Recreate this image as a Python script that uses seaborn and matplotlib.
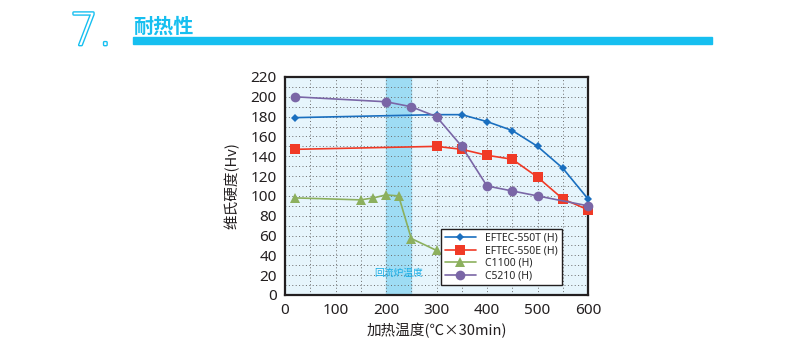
import matplotlib
matplotlib.use("Agg")
import matplotlib.pyplot as plt
import matplotlib.patheffects as pe
from matplotlib.ticker import MultipleLocator
import seaborn as sns
import pandas as pd

# data
temp_550t = [20, 300, 350, 400, 450, 500, 550, 600]
hv_550t = [179, 182, 182, 175, 166, 150, 128, 97]

temp_550e = [20, 300, 350, 400, 450, 500, 550, 600]
hv_550e = [147, 150, 147, 141, 137, 119, 97, 86]

temp_c1100 = [20, 150, 175, 200, 225, 250, 300]
hv_c1100 = [98, 96, 98, 101, 100, 57, 45]

temp_c5210 = [20, 200, 250, 300, 350, 400, 450, 500, 600]
hv_c5210 = [200, 195, 190, 180, 150, 110, 105, 100, 90]

series_names = ["EFTEC-550T (H)", "EFTEC-550E (H)", "C1100 (H)", "C5210 (H)"]
reflow_band = [200, 250]

CYAN = "#16bff0"
INK = "#231f20"

sns.set_theme(style="white")
plt.rcParams["font.family"] = ["Noto Sans", "Noto Sans CJK SC", "DejaVu Sans"]

fig = plt.figure(figsize=(7.86, 3.57), dpi=100)
ax = fig.add_axes([285 / 786, 1 - 295 / 357, 303 / 786, 218 / 357])
ax.set_facecolor("#e6f5fc")

# reflow oven temperature band
ax.axvspan(reflow_band[0], reflow_band[1], color="#9edcf4", zorder=0.5)
ax.text(sum(reflow_band) / 2, 22, "回流炉温度", color="#1aaee6", fontsize=7,
        family=["Noto Sans CJK SC"], ha="center", va="center", zorder=1)

styles = [
    (temp_550t, hv_550t, "#1a6fbf", "D", 4.5),
    (temp_550e, hv_550e, "#f03a26", "s", 7),
    (temp_c1100, hv_c1100, "#8cb05e", "^", 6.5),
    (temp_c5210, hv_c5210, "#7a66a6", "o", 7),
]
for name, (xs, ys, col, mk, ms) in zip(series_names, styles):
    df = pd.DataFrame({"temp": xs, "hv": ys})
    sns.lineplot(data=df, x="temp", y="hv", ax=ax, color=col, marker=mk,
                 markersize=ms, markeredgewidth=0, linewidth=1.2,
                 label=name, zorder=3, clip_on=False)

ax.set_xlim(0, 600)
ax.set_ylim(0, 220)
ax.xaxis.set_major_locator(MultipleLocator(100))
ax.xaxis.set_minor_locator(MultipleLocator(50))
ax.yaxis.set_major_locator(MultipleLocator(20))
ax.yaxis.set_minor_locator(MultipleLocator(10))
ax.grid(True, which="both", linestyle=(0, (1, 2.5)), color="#6a6a6a", linewidth=0.7, zorder=1)
ax.set_axisbelow(True)
ax.tick_params(which="both", length=0, labelsize=11, colors=INK, pad=6)
for s in ax.spines.values():
    s.set_color(INK)
    s.set_linewidth(1.6)

ax.set_xlabel("加热温度(℃×30min)", fontsize=10.5, color=INK, labelpad=3,
              family=["Noto Sans CJK SC", "DejaVu Sans"])
ax.set_ylabel("维氏硬度(Hv)", fontsize=10.5, color=INK, labelpad=8,
              family=["Noto Sans CJK SC", "DejaVu Sans"])

leg = ax.legend(loc="lower right", bbox_to_anchor=(0.93, 0.022), fontsize=7.5,
                frameon=True, fancybox=False, borderpad=0.35, labelspacing=0.15,
                handlelength=3.0, handletextpad=0.9)
leg.get_frame().set_edgecolor(INK)
leg.get_frame().set_linewidth(1.0)
leg.get_frame().set_facecolor("white")
leg.get_frame().set_alpha(1)

# header
fig.text(70 / 786, 1 - 45 / 357, "7.", fontsize=32, color="white", ha="left", va="baseline",
         family="DejaVu Sans", fontweight="light",
         path_effects=[pe.withStroke(linewidth=2.0, foreground=CYAN)])
fig.text(133 / 786, 1 - 33 / 357, "耐热性", fontsize=14.5, color=CYAN, fontweight="bold",
         family=["Noto Sans CJK SC"], ha="left", va="baseline")
fig.patches.append(plt.Rectangle((133 / 786, 1 - 44 / 357), (712 - 133) / 786, 7 / 357,
                                 transform=fig.transFigure, color=CYAN, zorder=0))

fig.savefig("out.png", dpi=100)
